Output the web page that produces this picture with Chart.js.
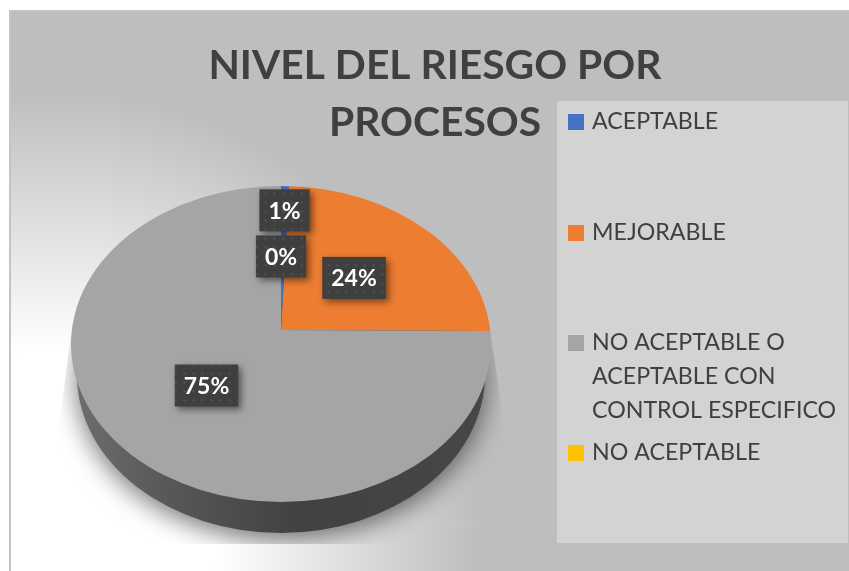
<!DOCTYPE html>
<html><head><meta charset="utf-8">
<style>html,body{margin:0;padding:0;background:#fff;overflow:hidden}canvas{display:block}</style>
<script src="https://cdn.jsdelivr.net/npm/chart.js@4/dist/chart.umd.js"></script>
</head><body><canvas id="c" width="849" height="571"></canvas>
<script>
const titleLines = ['NIVEL DEL RIESGO POR', 'PROCESOS'];
const categories = ['ACEPTABLE', 'MEJORABLE', 'NO ACEPTABLE O ACEPTABLE CON CONTROL ESPECIFICO', 'NO ACEPTABLE'];
const legendLines = [['ACEPTABLE'], ['MEJORABLE'], ['NO ACEPTABLE O', 'ACEPTABLE CON', 'CONTROL ESPECIFICO'], ['NO ACEPTABLE']];
const values = [0.7, 24.4, 74.9, 0];
const shownPercents = ['1%', '24%', '75%', '0%'];
const colors = ['#4472c4', '#ed7d31', '#a5a5a5', '#ffc000'];
const labelRadial = [0.76, 0.48, 0.5, 0.467];

const APEX = {x: 281, y: 330};
const TILT = 0.75, OVER = 1.15;
const TOP = {dy: 14, rx: 1, ry: 158 / 210};
const SIDE = {dy: 45, rx: 204 / 210, ry: 158 / 210};
const PANEL = {x: 557, y: 101, w: 291, h: 442};
const legendRows = [122, 233, 343, 453];
const legendStep = 34;

function ellipse(ctx, o, R) {
  ctx.beginPath();
  ctx.ellipse(APEX.x, APEX.y + o.dy, R * o.rx, R * o.ry, 0, 0, Math.PI * 2);
}
let dots = null;
function dotPattern(ctx) {
  if (dots) return dots;
  const t = document.createElement('canvas');
  t.width = t.height = 9;
  const g = t.getContext('2d');
  g.fillStyle = '#3f3f3f'; g.fillRect(0, 0, 9, 9);
  g.fillStyle = '#505050'; g.beginPath(); g.arc(4.5, 4.5, 1.3, 0, 7); g.fill();
  dots = ctx.createPattern(t, 'repeat');
  return dots;
}

const scene = {
  id: 'scene',
  beforeDraw(chart) {
    const ctx = chart.ctx;
    ctx.save();
    ctx.fillStyle = '#fff'; ctx.fillRect(0, 0, 849, 571);
    const g = ctx.createRadialGradient(50, 520, 170, 50, 520, 430);
    g.addColorStop(0, '#ffffff'); g.addColorStop(1, '#bebebe');
    ctx.fillStyle = g; ctx.fillRect(10, 11, 839, 560);
    ctx.fillStyle = '#c4c4c4';
    ctx.fillRect(9, 10, 840, 1.5); ctx.fillRect(9, 10, 2, 561);
    ctx.fillStyle = '#d3d3d3'; ctx.fillRect(PANEL.x, PANEL.y, PANEL.w, PANEL.h);
    ctx.restore();
  },
  beforeDatasetsDraw(chart) {
    const ctx = chart.ctx, R = chart.getDatasetMeta(0).data[0].outerRadius;
    ctx.save();
    ctx.beginPath();
    ctx.moveTo(APEX.x - R, APEX.y + 4); ctx.lineTo(APEX.x + R, APEX.y + 4);
    ctx.lineTo(APEX.x + R + 15, APEX.y + 110); ctx.lineTo(APEX.x + R + 30, 544);
    ctx.lineTo(APEX.x - R - 30, 544); ctx.lineTo(APEX.x - R - 14, APEX.y + 110);
    ctx.closePath(); ctx.clip();
    ctx.shadowColor = 'rgba(0,0,0,0.55)'; ctx.shadowBlur = 26; ctx.shadowOffsetY = 6;
    ctx.fillStyle = '#999';
    ellipse(ctx, SIDE, R); ctx.fill();
    ctx.restore();
    ctx.save();
    const s = ctx.createLinearGradient(APEX.x - R, 0, APEX.x + R, 0);
    s.addColorStop(0, '#6e6e6e'); s.addColorStop(0.25, '#565656');
    s.addColorStop(0.55, '#414141'); s.addColorStop(1, '#474747');
    ctx.fillStyle = s;
    ellipse(ctx, SIDE, R); ctx.fill();
    ctx.restore();
  },
  beforeDatasetDraw(chart) {
    const ctx = chart.ctx, a = chart.getDatasetMeta(0).data[0];
    ctx.save();
    ellipse(ctx, TOP, a.outerRadius); ctx.clip();
    ctx.translate(APEX.x, APEX.y);
    ctx.scale(OVER, OVER * TILT);
    ctx.translate(-a.x, -a.y);
  },
  afterDatasetDraw(chart) { chart.ctx.restore(); },
  afterDatasetsDraw(chart) {
    const ctx = chart.ctx;
    chart.getDatasetMeta(0).data.forEach((a, i) => {
      const mid = (a.startAngle + a.endAngle) / 2, r = labelRadial[i] * a.outerRadius;
      const x = APEX.x + r * Math.cos(mid), y = APEX.y + r * TILT * Math.sin(mid);
      ctx.save();
      ctx.font = '700 23px Lato';
      const w = ctx.measureText(shownPercents[i]).width + 18, h = 42;
      ctx.shadowColor = 'rgba(0,0,0,0.5)'; ctx.shadowBlur = 7; ctx.shadowOffsetX = 3; ctx.shadowOffsetY = 3;
      ctx.fillStyle = dotPattern(ctx);
      ctx.fillRect(x - w / 2, y - h / 2, w, h);
      ctx.shadowColor = 'transparent';
      ctx.fillStyle = '#fff'; ctx.textAlign = 'center'; ctx.textBaseline = 'middle';
      ctx.fillText(shownPercents[i], x, y + 1);
      ctx.restore();
    });
    ctx.save();
    ctx.font = '400 23.2px Lato'; ctx.textBaseline = 'middle'; ctx.textAlign = 'left';
    legendLines.forEach((lines, i) => {
      const y = legendRows[i];
      ctx.fillStyle = colors[i];
      ctx.fillRect(568, y - 8, 16, 16);
      ctx.fillStyle = '#404040';
      lines.forEach((t, j) => ctx.fillText(t, 592, y + j * legendStep));
    });
    ctx.restore();
  }
};

new Chart(document.getElementById('c'), {
  type: 'pie',
  data: {labels: categories, datasets: [{data: values, backgroundColor: colors, borderWidth: 0, clip: false}]},
  options: {
    responsive: false, animation: false, rotation: 0,
    layout: {padding: {left: 21, right: 0, top: 0, bottom: 0}},
    plugins: {
      legend: {display: false},
      tooltip: {enabled: false},
      title: {
        display: true, text: titleLines, color: '#404040',
        font: {family: 'Lato', size: 40.8, weight: '700', lineHeight: 1.397},
        padding: {top: 37, bottom: 0}
      }
    }
  },
  plugins: [scene]
});
</script></body></html>
